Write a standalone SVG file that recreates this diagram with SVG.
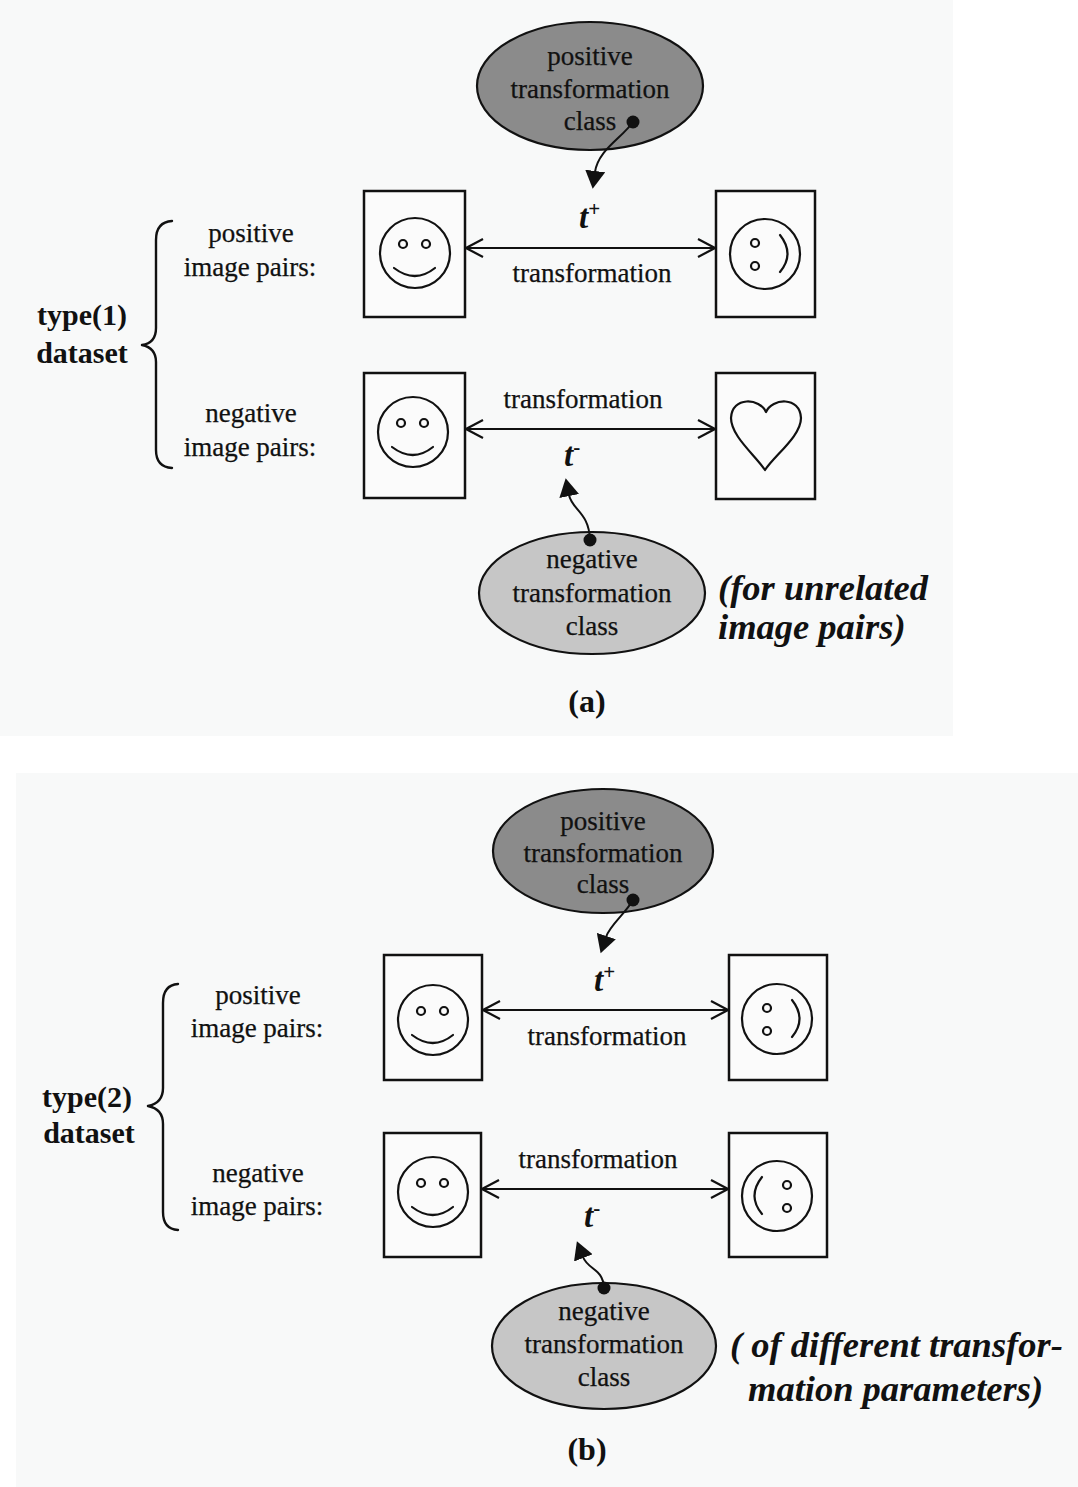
<svg xmlns="http://www.w3.org/2000/svg" xmlns:xlink="http://www.w3.org/1999/xlink" width="1078" height="1487" viewBox="0 0 1078 1487">
  <style>
    .panel { fill: #f8f9f9; }
    .lbl { font-family: "Liberation Serif", "Times New Roman", serif; font-size: 27px; fill: #111; text-anchor: middle; stroke: #111; stroke-width: 0.25; }
    .ds { font-family: "Liberation Serif", "Times New Roman", serif; font-size: 30px; font-weight: bold; fill: #111; text-anchor: middle; }
    .note { font-family: "Liberation Serif", "Times New Roman", serif; font-size: 36.5px; font-weight: bold; font-style: italic; fill: #111; }
    .tsym { font-family: "Liberation Serif", "Times New Roman", serif; font-size: 33px; font-weight: bold; font-style: italic; fill: #111; }
    .sup { font-size: 21px; font-weight: bold; font-style: normal; }
    .cap { font-family: "Liberation Serif", "Times New Roman", serif; font-size: 32px; font-weight: bold; fill: #111; text-anchor: middle; }
    .box { fill: #fbfbfb; stroke: #111; stroke-width: 2.5; }
    .ink { fill: none; stroke: #111; stroke-width: 2.2; stroke-linecap: round; stroke-linejoin: round; }
    .cls-pos { fill: #8b8b8b; stroke: #111; stroke-width: 2.2; }
    .cls-neg { fill: #c6c6c6; stroke: #111; stroke-width: 2.2; }
    .pair { fill: none; stroke: #111; stroke-width: 2.2; marker-start: url(#open); marker-end: url(#open); }
    .link { fill: none; stroke: #111; stroke-width: 2; marker-start: url(#dot); marker-end: url(#solid); }
    .brace { fill: none; stroke: #111; stroke-width: 2.4; stroke-linecap: round; stroke-linejoin: round; }
  </style>
  <defs>
    <marker id="open" viewBox="0 0 22 22" refX="20" refY="11" markerWidth="22" markerHeight="22" markerUnits="userSpaceOnUse" orient="auto-start-reverse">
      <path d="M3 2 L20 11 L3 20" fill="none" stroke="#111" stroke-width="2.2"/>
    </marker>
    <marker id="solid" viewBox="0 0 20 20" refX="1" refY="10" markerWidth="20" markerHeight="20" markerUnits="userSpaceOnUse" orient="auto">
      <path d="M0 0 L18 10 L0 20 Z" fill="#111"/>
    </marker>
    <marker id="dot" viewBox="0 0 16 16" refX="8" refY="8" markerWidth="16" markerHeight="16" markerUnits="userSpaceOnUse">
      <circle cx="8" cy="8" r="6.5" fill="#111"/>
    </marker>
    <!-- upright smiley, centred on 0,0 -->
    <g id="smiley">
      <circle class="ink" cx="0" cy="0" r="35"/>
      <circle class="ink" cx="-12" cy="-9" r="4"/>
      <circle class="ink" cx="11" cy="-9" r="4"/>
      <path class="ink" d="M-21 15 Q0 31 20 15"/>
    </g>
    <!-- smiley turned on its side, mouth to the right -->
    <g id="sideface">
      <circle class="ink" cx="0" cy="0" r="35"/>
      <circle class="ink" cx="-10" cy="-11" r="4"/>
      <circle class="ink" cx="-10" cy="12" r="4"/>
      <path class="ink" d="M15 -19 Q30 0 15 18"/>
    </g>
  </defs>

  <!-- panel backgrounds -->
  <rect class="panel" x="0" y="0" width="953" height="736"/>
  <rect class="panel" x="16" y="773" width="1062" height="714"/>

  <!-- ================= (a) ================= -->
  <g id="a-pos-class">
    <ellipse class="cls-pos" cx="590" cy="86" rx="113" ry="64"/>
    <text class="lbl" x="590" y="65">positive</text>
    <text class="lbl" x="590" y="98">transformation</text>
    <text class="lbl" x="590" y="130">class</text>
  </g>
  <g id="a-neg-class">
    <ellipse class="cls-neg" cx="592" cy="593" rx="113" ry="61"/>
    <text class="lbl" x="592" y="568">negative</text>
    <text class="lbl" x="592" y="602">transformation</text>
    <text class="lbl" x="592" y="635">class</text>
  </g>
  <g id="a-pos-src">
    <rect class="box" x="364" y="191" width="101" height="126"/>
    <use xlink:href="#smiley" x="415" y="253"/>
  </g>
  <g id="a-pos-dst">
    <rect class="box" x="716" y="191" width="99" height="126"/>
    <use xlink:href="#sideface" x="765" y="254"/>
  </g>
  <g id="a-neg-src">
    <rect class="box" x="364" y="373" width="101" height="125"/>
    <use xlink:href="#smiley" x="413" y="432"/>
  </g>
  <g id="a-neg-dst">
    <rect class="box" x="716" y="373" width="99" height="126"/>
    <path class="ink" d="M766 412 C760 398 732 396 731 418 C731 436 755 455 765 470 C775 455 801 436 801 418 C800 396 772 398 766 412 Z"/>
  </g>
  <g id="a-labels">
    <text class="ds" x="82" y="325">type(1)</text>
    <text class="ds" x="82" y="363">dataset</text>
    <text class="lbl" x="251" y="242">positive</text>
    <text class="lbl" x="250" y="276">image pairs:</text>
    <text class="lbl" x="251" y="422">negative</text>
    <text class="lbl" x="250" y="456">image pairs:</text>
    <text class="tsym" x="579" y="228">t<tspan class="sup" dy="-12">+</tspan></text>
    <text class="lbl" x="592" y="282">transformation</text>
    <text class="lbl" x="583" y="408">transformation</text>
    <text class="tsym" x="564" y="466">t<tspan class="sup" dy="-12">-</tspan></text>
    <text class="note" x="718" y="600">(for unrelated</text>
    <text class="note" x="718" y="639">image pairs)</text>
    <text class="cap" x="587" y="712">(a)</text>
  </g>

  <!-- ================= (b) ================= -->
  <g id="b-pos-class">
    <ellipse class="cls-pos" cx="603" cy="851" rx="110" ry="62"/>
    <text class="lbl" x="603" y="830">positive</text>
    <text class="lbl" x="603" y="862">transformation</text>
    <text class="lbl" x="603" y="893">class</text>
  </g>
  <g id="b-neg-class">
    <ellipse class="cls-neg" cx="604" cy="1346" rx="112" ry="63"/>
    <text class="lbl" x="604" y="1320">negative</text>
    <text class="lbl" x="604" y="1353">transformation</text>
    <text class="lbl" x="604" y="1386">class</text>
  </g>
  <g id="b-pos-src">
    <rect class="box" x="384" y="955" width="98" height="125"/>
    <use xlink:href="#smiley" x="433" y="1020"/>
  </g>
  <g id="b-pos-dst">
    <rect class="box" x="729" y="955" width="98" height="125"/>
    <use xlink:href="#sideface" x="777" y="1019"/>
  </g>
  <g id="b-neg-src">
    <rect class="box" x="384" y="1133" width="97" height="124"/>
    <use xlink:href="#smiley" x="433" y="1192"/>
  </g>
  <g id="b-neg-dst">
    <rect class="box" x="729" y="1133" width="98" height="124"/>
    <use xlink:href="#sideface" transform="translate(777 1196) scale(-1 1)"/>
  </g>
  <g id="b-labels">
    <text class="ds" x="87" y="1107">type(2)</text>
    <text class="ds" x="89" y="1143">dataset</text>
    <text class="lbl" x="258" y="1004">positive</text>
    <text class="lbl" x="257" y="1037">image pairs:</text>
    <text class="lbl" x="258" y="1182">negative</text>
    <text class="lbl" x="257" y="1215">image pairs:</text>
    <text class="tsym" x="594" y="991">t<tspan class="sup" dy="-12">+</tspan></text>
    <text class="lbl" x="607" y="1045">transformation</text>
    <text class="lbl" x="598" y="1168">transformation</text>
    <text class="tsym" x="584" y="1227">t<tspan class="sup" dy="-12">-</tspan></text>
    <text class="note" x="730" y="1357">( of different transfor-</text>
    <text class="note" x="748" y="1401">mation parameters)</text>
    <text class="cap" x="587" y="1460">(b)</text>
  </g>

  <!-- connectors -->
  <g id="connectors">
    <path class="brace" d="M172 221 Q156 222 156 240 L156 328 Q156 343 142 345 Q156 348 156 362 L156 450 Q156 467 172 468"/>
    <path class="brace" d="M178 984 Q163 985 163 1003 L163 1088 Q163 1103 148 1106 Q163 1109 163 1124 L163 1212 Q163 1229 178 1230"/>
    <path class="pair" d="M466 248 L715 248"/>
    <path class="pair" d="M466 429 L715 429"/>
    <path class="pair" d="M483 1010 L728 1010"/>
    <path class="pair" d="M482 1189 L728 1189"/>
    <path class="link" d="M633 122 C622 138 598 150 595 172"/>
    <path class="link" d="M590 540 C589 512 572 510 569 495"/>
    <path class="link" d="M633 900 C625 914 610 925 606 937"/>
    <path class="link" d="M604 1288 C603 1268 588 1270 583 1257"/>
  </g>
</svg>
